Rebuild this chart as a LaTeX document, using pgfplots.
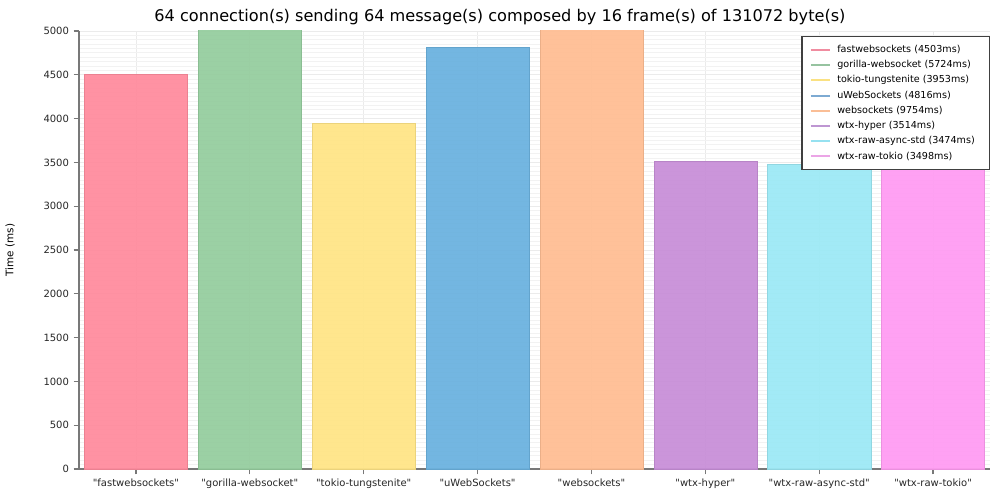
\documentclass[border=0pt]{standalone}
\usepackage{pgfplots}
\pgfplotsset{compat=1.18}
\usepackage{fontspec}
\setmainfont{DejaVu Sans}[Ligatures=TeXOff]
\definecolor{c1}{RGB}{255,140,158}
\definecolor{c2}{RGB}{150,205,159}
\definecolor{c3}{RGB}{255,229,135}
\definecolor{c4}{RGB}{108,178,223}
\definecolor{c5}{RGB}{255,190,148}
\definecolor{c6}{RGB}{200,143,216}
\definecolor{c7}{RGB}{157,233,245}
\definecolor{c8}{RGB}{255,156,242}
\definecolor{l1}{RGB}{240,140,160}
\definecolor{l2}{RGB}{150,195,160}
\definecolor{l3}{RGB}{250,225,130}
\definecolor{l4}{RGB}{125,170,210}
\definecolor{l5}{RGB}{250,190,150}
\definecolor{l6}{RGB}{190,150,210}
\definecolor{l7}{RGB}{150,225,240}
\definecolor{l8}{RGB}{235,165,230}
\definecolor{axgray}{RGB}{120,120,120}
\begin{document}
\begin{tikzpicture}[x=1pt,y=1pt]
\useasboundingbox (-59.25,-23.25) rectangle (690.75,351.75);
\begin{axis}[
  at={(0,0)}, anchor=south west,
  scale only axis, width=683.25pt, height=328.5pt,
  xmin=-0.5, xmax=7.5, ymin=0, ymax=5000,
  xtick={0,...,7},
  xticklabels={"fastwebsockets","gorilla-websocket","tokio-tungstenite","uWebSockets","websockets","wtx-hyper","wtx-raw-async-std","wtx-raw-tokio"},
  ytick={0,500,...,5000},
  minor ytick={0,50,...,5000},
  /pgf/number format/assume math mode=true,
  yticklabel style={/pgf/number format/1000 sep={}},
  tick label style={font=\fontsize{7.5}{9}\selectfont, text=black!85},
  tick align=outside, tick pos=left,
  major tick length=4pt,
  minor tick length=0pt,
  axis x line*=bottom, axis y line*=left,
  axis line style={axgray, line width=1.2pt, -},
  tick style={axgray, line width=0.9pt},
  xmajorgrids, ymajorgrids, yminorgrids,
  major grid style={draw=black!8, line width=0.6pt},
  minor grid style={draw=black!5, line width=0.6pt},
  ybar, bar width=0.905, bar shift=0pt,
  legend style={at={(1,0.9886)}, anchor=north east, draw=black!75, line width=0.8pt,
    font=\fontsize{7.2}{8.5}\selectfont, row sep=0.45pt, inner xsep=6pt, inner ysep=4.5pt,
    legend cell align=left, fill=white,
    nodes={inner xsep=5pt}},
  legend image code/.code={\draw[line width=1.5pt, #1] (0pt,0pt) -- (14pt,0pt);},
  clip=true,
]
\addplot[fill=c1, draw=c1!92!black, fill opacity=0.95, line width=0.3pt, legend image post style={draw=l1}] coordinates {(0,4503)};
\addlegendentry{fastwebsockets (4503ms)}
\addplot[fill=c2, draw=c2!92!black, fill opacity=0.95, line width=0.3pt, legend image post style={draw=l2}] coordinates {(1,5724)};
\addlegendentry{gorilla-websocket (5724ms)}
\addplot[fill=c3, draw=c3!92!black, fill opacity=0.95, line width=0.3pt, legend image post style={draw=l3}] coordinates {(2,3953)};
\addlegendentry{tokio-tungstenite (3953ms)}
\addplot[fill=c4, draw=c4!92!black, fill opacity=0.95, line width=0.3pt, legend image post style={draw=l4}] coordinates {(3,4816)};
\addlegendentry{uWebSockets (4816ms)}
\addplot[fill=c5, draw=c5!92!black, fill opacity=0.95, line width=0.3pt, legend image post style={draw=l5}] coordinates {(4,9754)};
\addlegendentry{websockets (9754ms)}
\addplot[fill=c6, draw=c6!92!black, fill opacity=0.95, line width=0.3pt, legend image post style={draw=l6}] coordinates {(5,3514)};
\addlegendentry{wtx-hyper (3514ms)}
\addplot[fill=c7, draw=c7!92!black, fill opacity=0.95, line width=0.3pt, legend image post style={draw=l7}] coordinates {(6,3474)};
\addlegendentry{wtx-raw-async-std (3474ms)}
\addplot[fill=c8, draw=c8!92!black, fill opacity=0.95, line width=0.3pt, legend image post style={draw=l8}] coordinates {(7,3498)};
\addlegendentry{wtx-raw-tokio (3498ms)}
\end{axis}
\node[font=\fontsize{12.1}{14}\selectfont] at (315.75,339) {64 connection(s) sending 64 message(s) composed by 16 frame(s) of 131072 byte(s)};
\node[font=\fontsize{7.8}{9}\selectfont, rotate=90] at (-51.75,164.25) {Time (ms)};
\end{tikzpicture}
\end{document}
